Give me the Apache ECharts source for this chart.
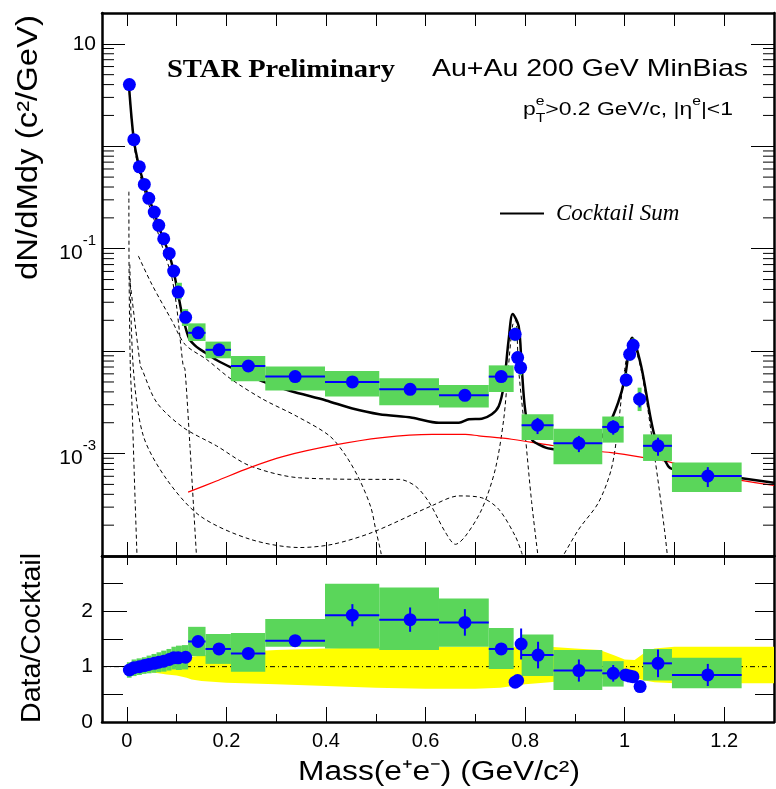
<!DOCTYPE html>
<html>
<head>
<meta charset="utf-8">
<script src="https://cdn.jsdelivr.net/npm/echarts@6.0.0/dist/echarts.min.js"></script>
<style>
html,body{margin:0;padding:0;background:#fff;}
#chart{width:776px;height:789px;}
</style>
</head>
<body>
<div id="chart"></div>
<script>
// ---------------- axes ----------------
const massRange = [-0.05, 1.3];
const massTickValues = [0,0.1,0.2,0.3,0.4,0.5,0.6,0.7,0.8,0.9,1.0,1.1,1.2];
const massLabelValues = [0,0.2,0.4,0.6,0.8,1.0,1.2];
const massMinorValues = [0.1,0.3,0.5,0.7,0.9,1.1];
const yieldRange = [1e-4, 20];
const yieldMinorTicks = [2e-4,3e-4,4e-4,5e-4,6e-4,7e-4,8e-4,9e-4,
  2e-3,3e-3,4e-3,5e-3,6e-3,7e-3,8e-3,9e-3,
  0.02,0.03,0.04,0.05,0.06,0.07,0.08,0.09,
  0.2,0.3,0.4,0.5,0.6,0.7,0.8,0.9,
  2,3,4,5,6,7,8,9];
const yieldLabelExponents = [1,-1,-3];
const ratioRange = [0, 3];
const ratioMajorTicks = [0,1,2];
const ratioMinorTicks = [0.5,1.5,2.5];
const ratioRightTicks = [0.5,1,1.5,2,2.5];
const unityRatio = 1;

// ---------------- top panel: data ----------------
const dataMass  = [0.005,0.014,0.025,0.035,0.044,0.055,0.064,0.074,0.085,0.094,0.103,0.118,
  0.143,0.185,0.244,0.338,0.453,0.569,0.679,0.752,0.780,0.785,0.791,0.825,0.908,0.977,
  1.003,1.010,1.017,1.030,1.067,1.167];
const dataYield = [4.0,1.16,0.63,0.424,0.31,0.228,0.169,0.125,0.09,0.0605,0.0377,0.0214,
  0.0151,0.0103,0.00716,0.00564,0.0050,0.00424,0.0037,0.00564,0.0146,0.00865,0.0069,0.00189,0.00126,0.00182,
  0.00523,0.0093,0.0114,0.0034,0.00119,0.000604];
const dataBinLo = [0.000,0.0095,0.0195,0.030,0.0395,0.0495,0.0595,0.069,0.0795,0.0895,0.0985,0.1105,
  0.123,0.158,0.209,0.278,0.398,0.507,0.627,0.727,0.777,0.782,0.788,0.793,0.857,0.955,
  1.000,1.007,1.014,1.026,1.037,1.095];
const dataBinHi = [0.0095,0.0195,0.030,0.0395,0.0495,0.0595,0.069,0.0795,0.0895,0.0985,0.1105,0.123,
  0.158,0.209,0.278,0.398,0.507,0.627,0.727,0.777,0.783,0.788,0.794,0.857,0.955,0.998,
  1.006,1.013,1.020,1.034,1.095,1.235];
const dataStatRel = [0.02,0.02,0.02,0.02,0.02,0.02,0.02,0.02,0.02,0.03,0.03,0.04,
  0.04,0.04,0.05,0.05,0.06,0.07,0.08,0.06,0.06,0.08,0.1,0.18,0.18,0.16,
  0.08,0.06,0.06,0.17,0.2,0.22];
const dataSysLo = [3.6,1.05,0.57,0.38,0.28,0.205,0.152,0.112,0.080,0.053,0.032,0.0176,
  0.01255,0.00851,0.00507,0.00412,0.0036,0.00296,0.00281,0.00399,0.0125,0.0074,0.0058,0.00136,0.000787,0.00128,
  0.0045,0.0080,0.0097,0.0026,0.000847,0.000422];
const dataSysHi = [4.4,1.28,0.70,0.47,0.34,0.25,0.186,0.138,0.100,0.069,0.0465,0.0257,
  0.01867,0.01239,0.00895,0.00706,0.0064,0.00543,0.00467,0.00726,0.0170,0.0100,0.0082,0.00242,0.00175,0.0023,
  0.0061,0.0108,0.0133,0.0044,0.00154,0.000816];

// ---------------- top panel: cocktail ----------------
const sumMass = [0.004,0.014,0.025,0.035,0.044,0.055,0.064,0.074,0.085,0.094,0.103,0.110,0.117,0.126,0.140,0.157,0.180,0.210,0.245,0.280,0.327,0.400,0.453,0.507,0.573,0.627,0.667,0.687,0.713,0.733,0.747,0.757,0.767,0.775,0.787,0.793,0.800,0.813,0.840,0.860,0.900,0.940,0.967,0.987,1.000,1.015,1.033,1.060,1.087,1.100,1.173,1.300];
const sumYield = [4.0,1.15,0.62,0.42,0.31,0.225,0.165,0.122,0.088,0.060,0.036,0.024,0.0175,0.013,0.011,0.0097,0.0082,0.0069,0.0058,0.0049,0.0041,0.0033,0.00275,0.00242,0.00224,0.0020,0.0020,0.00216,0.00219,0.00242,0.0029,0.0046,0.013,0.023,0.0176,0.0072,0.0027,0.00138,0.00115,0.0011,0.00105,0.0012,0.00186,0.00315,0.0053,0.0135,0.0072,0.00149,0.00076,0.0007,0.00063,0.00052];
const ccMass = [0.123,0.180,0.247,0.313,0.413,0.513,0.613,0.680,0.707,0.773,0.840,0.907,0.973,1.040,1.093,1.173,1.300];
const ccYield = [4.2e-4,5.4e-4,7.3e-4,9.35e-4,1.2e-3,1.43e-3,1.54e-3,1.54e-3,1.49e-3,1.38e-3,1.23e-3,1.1e-3,1.02e-3,9.1e-4,8.2e-4,6.2e-4,4.9e-4];
const lineAMass = [0.004,0.0045,0.007,0.010,0.0166,0.021];
const lineAYield = [0.36,0.05,0.0067,0.0032,3.4e-4,8e-5];
const pi0Mass = [0.004,0.014,0.025,0.035,0.044,0.055,0.064,0.074,0.085,0.090,0.100,0.113,0.1166,0.1266,0.134,0.141];
const pi0Yield = [3.8,1.05,0.56,0.37,0.27,0.19,0.135,0.095,0.065,0.054,0.027,0.0072,0.0067,0.0012,3e-4,8e-5];
const etaMass = [0.023,0.050,0.090,0.117,0.160,0.210,0.273,0.340,0.407,0.440,0.467,0.490,0.500,0.510,0.515];
const etaYield = [0.085,0.045,0.020,0.0116,0.0083,0.0053,0.0034,0.00233,0.00149,0.00095,5.6e-4,3e-4,1.8e-4,1.1e-4,8e-5];
const omegaMass = [0.005,0.027,0.030,0.060,0.113,0.180,0.247,0.347,0.513,0.547,0.580,0.607,0.640,0.660,0.680,0.713,0.740,0.757,0.766,0.775,0.781,0.787,0.800,0.813,0.827];
const omegaYield = [0.054,0.0072,0.0067,0.00315,0.0018,0.00119,7.6e-4,5.8e-4,5.6e-4,5.6e-4,4.8e-4,3.35e-4,1.7e-4,1.3e-4,1.56e-4,2.86e-4,7e-4,2.16e-3,6.6e-3,0.018,0.02,0.0066,0.00156,3.4e-4,9e-5];
const etapMass = [0.006,0.013,0.033,0.080,0.147,0.247,0.347,0.413,0.493,0.613,0.667,0.713,0.747,0.780,0.793,0.800];
const etapYield = [0.07,0.0067,1.49e-3,5.6e-4,2.46e-4,1.46e-4,1.21e-4,1.3e-4,1.7e-4,3.1e-4,3.86e-4,3.7e-4,2.86e-4,1.57e-4,1.08e-4,8e-5];
const phiMass = [0.865,0.907,0.947,0.973,0.987,1.000,1.013,1.033,1.060,1.080,1.088];
const phiYield = [8e-5,1.8e-4,3.3e-4,7e-4,1.86e-3,6.6e-3,0.0128,6.6e-3,9.5e-4,1.8e-4,8e-5];

// ---------------- ratio panel ----------------
const ratioMass = [0.005,0.014,0.025,0.035,0.044,0.055,0.064,0.074,0.085,0.094,0.103,0.118,
  0.143,0.185,0.244,0.338,0.453,0.569,0.679,0.752,0.780,0.785,0.792,0.826,0.908,0.977,
  1.002,1.010,1.0166,1.031,1.067,1.167];
const ratioValue = [0.94,0.98,1.0,1.02,1.04,1.06,1.08,1.10,1.13,1.16,1.16,1.17,
  1.455,1.32,1.24,1.47,1.93,1.85,1.80,1.32,0.72,0.75,1.41,1.21,0.93,0.88,
  0.85,0.83,0.82,0.64,1.06,0.85];
const ratioStat = [0.02,0.02,0.02,0.02,0.02,0.02,0.02,0.02,0.02,0.03,0.03,0.04,
  0.05,0.05,0.05,0.05,0.20,0.22,0.24,0.07,0.05,0.05,0.28,0.24,0.20,0.15,
  0.05,0.05,0.05,0.05,0.25,0.20];
const ratioSysLo = [0.80,0.83,0.85,0.87,0.88,0.89,0.90,0.91,0.93,0.95,0.94,0.95,
  1.19,1.05,0.91,1.36,1.33,1.30,1.36,0.96,0.66,0.69,1.30,0.83,0.58,0.64,
  0.78,0.77,0.75,0.58,0.75,0.61];
const ratioSysHi = [1.08,1.13,1.15,1.17,1.20,1.23,1.26,1.29,1.32,1.36,1.38,1.39,
  1.72,1.59,1.61,1.86,2.50,2.43,2.23,1.70,0.78,0.81,1.52,1.58,1.30,1.10,
  0.92,0.89,0.89,0.70,1.32,1.16];
const bandMass = [0.0,0.02,0.05,0.08,0.10,0.12,0.13,0.15,0.20,0.30,0.40,0.50,0.60,0.70,0.75,0.80,0.85,0.90,0.95,0.98,1.00,1.02,1.04,1.06,1.10,1.20,1.30];
const bandHigh = [1.05,1.05,1.06,1.08,1.10,1.13,1.18,1.20,1.25,1.30,1.33,1.36,1.36,1.36,1.36,1.36,1.36,1.33,1.30,1.20,1.13,1.12,1.25,1.33,1.36,1.36,1.36];
const bandLow  = [0.93,0.92,0.90,0.86,0.84,0.80,0.77,0.74,0.71,0.68,0.65,0.62,0.60,0.60,0.62,0.68,0.72,0.77,0.78,0.80,0.82,0.80,0.75,0.72,0.70,0.70,0.70];

// ---------------- styles ----------------
const BLUE = '#0000ff', GREEN = '#5ad65a', YELLOW = '#ffff00';
const SANS = '"Liberation Sans", Arial, sans-serif';
const SERIF = '"Liberation Serif", "Times New Roman", serif';

const chart = echarts.init(document.getElementById('chart'), null, {renderer:'canvas'});
const mctx = document.createElement('canvas').getContext('2d');
function textWidth(t, font){ mctx.font = font; return mctx.measureText(t).width; }

function frameX(grid, pos, ticks, len, showLine) {
  return {type:'value', gridIndex:grid, position:pos, min:massRange[0], max:massRange[1],
    axisLine:{show:showLine, onZero:false, lineStyle:{color:'#000', width:2.5}},
    axisTick:{show:true, inside:true, length:len, customValues:ticks, lineStyle:{color:'#000', width:1}},
    axisLabel:{show:false}, splitLine:{show:false}};
}
function ratioY(pos, ticks, len, showLine) {
  return {type:'value', gridIndex:1, position:pos, min:ratioRange[0], max:ratioRange[1],
    axisLine:{show:showLine, onZero:false, lineStyle:{color:'#000', width:2.5}},
    axisTick:{show:true, inside:true, length:len, customValues:ticks, lineStyle:{color:'#000', width:1}},
    axisLabel:{show:false}, splitLine:{show:false}};
}
function logY(pos) {
  return {type:'log', logBase:10, gridIndex:0, position:pos, min:yieldRange[0], max:yieldRange[1],
    axisLine:{show:true, onZero:false, lineStyle:{color:'#000', width:2.5}},
    axisTick:{show:true, inside:true, length:23, lineStyle:{color:'#000', width:1}},
    axisLabel:{show:false}, splitLine:{show:false}, minorTick:{show:false}};
}

const xAxes = [
  frameX(0,'bottom',massTickValues,14,true),   // 0
  frameX(0,'top',massTickValues,13,true),      // 1
  Object.assign(frameX(1,'bottom',massLabelValues,15,true), { // 2
    axisLabel:{show:true, customValues:massLabelValues, margin:9, color:'#000', fontSize:20, fontFamily:SANS}}),
  frameX(1,'bottom',massMinorValues,8,false),  // 3
  frameX(1,'top',massTickValues,9,true)        // 4
];
const yLeft = logY('left');
yLeft.axisLabel = {show:true, margin:6, color:'#000', fontSize:21, fontFamily:SANS,
  formatter: v => {
    const e = Math.round(Math.log10(v));
    if (Math.abs(Math.log10(v) - e) > 1e-6 || yieldLabelExponents.indexOf(e) < 0) return '';
    return e === 1 ? '10' : '{b|10}{s|' + e + '}';
  },
  rich:{b:{fontSize:21, fontFamily:SANS, color:'#000', lineHeight:30, verticalAlign:'bottom'},
        s:{fontSize:15, fontFamily:SANS, color:'#000', lineHeight:15, verticalAlign:'top'}}};
const yRatioLeft = ratioY('left', ratioMajorTicks, 25, true);
yRatioLeft.axisLabel = {show:true, customValues:ratioMajorTicks, margin:9, color:'#000', fontSize:21, fontFamily:SANS};
const yAxes = [
  yLeft,                                         // 0
  logY('right'),                                 // 1
  yRatioLeft,                                    // 2
  ratioY('left', ratioMinorTicks, 21, false),    // 3
  ratioY('right', ratioRightTicks, 19, true)     // 4
];

function curve(name, mass, val, color, width, type) {
  return {type:'line', name:name, xAxisIndex:0, yAxisIndex:0, data: mass.map((m,i)=>[m,val[i]]),
    symbol:'none', smooth:0.3, clip:true, z:2, silent:true,
    lineStyle:{color:color, width:width, type:type}};
}
function boxes(xi, yi, lo, hi, ylo, yhi) {
  return {type:'custom', xAxisIndex:xi, yAxisIndex:yi, clip:true, z:3, silent:true,
    data: lo.map((l,i)=>[l, hi[i], ylo[i], yhi[i]]), encode:{x:[0,1], y:[2,3]},
    renderItem:(p, api) => {
      const a = api.coord([api.value(0), api.value(3)]);
      const b = api.coord([api.value(1), api.value(2)]);
      return {type:'rect', shape:{x:a[0], y:a[1], width:b[0]-a[0], height:b[1]-a[1]}, style:{fill:GREEN}};
    }};
}
function errorBars(xi, yi, mass, val, lo, hi, elo, ehi) {
  return {type:'custom', xAxisIndex:xi, yAxisIndex:yi, clip:true, z:4, silent:true,
    data: mass.map((m,i)=>[m, val[i], lo[i], hi[i], elo[i], ehi[i]]), encode:{x:0, y:1},
    renderItem:(p, api) => {
      const m = api.value(0), v = api.value(1);
      const l = api.coord([api.value(2), v]), r = api.coord([api.value(3), v]);
      const b = api.coord([m, api.value(4)]), t = api.coord([m, api.value(5)]);
      const st = {stroke:BLUE, lineWidth:2};
      return {type:'group', children:[
        {type:'line', shape:{x1:l[0], y1:l[1], x2:r[0], y2:r[1]}, style:st},
        {type:'line', shape:{x1:b[0], y1:b[1], x2:t[0], y2:t[1]}, style:st}]};
    }};
}
function points(xi, yi, mass, val) {
  return {type:'scatter', xAxisIndex:xi, yAxisIndex:yi, data: mass.map((m,i)=>[m,val[i]]),
    symbol:'circle', symbolSize:13, itemStyle:{color:BLUE, opacity:1}, z:5, silent:true};
}

const dash = [4,3];
const series = [
  curve('lineA', lineAMass, lineAYield, '#000', 1, dash),
  curve('pi0', pi0Mass, pi0Yield, '#000', 1, dash),
  curve('eta', etaMass, etaYield, '#000', 1, dash),
  curve('omega', omegaMass, omegaYield, '#000', 1, dash),
  curve('etap', etapMass, etapYield, '#000', 1, dash),
  curve('phi', phiMass, phiYield, '#000', 1, dash),
  curve('ccbar', ccMass, ccYield, '#ff0000', 1.2, 'solid'),
  curve('Cocktail Sum', sumMass, sumYield, '#000', 2.5, 'solid'),
  boxes(0, 0, dataBinLo, dataBinHi, dataSysLo, dataSysHi),
  errorBars(0, 0, dataMass, dataYield, dataBinLo, dataBinHi,
    dataYield.map((v,i)=>v*(1-dataStatRel[i])), dataYield.map((v,i)=>v*(1+dataStatRel[i]))),
  points(0, 0, dataMass, dataYield),
  // minor log ticks (left & right), placed through the log scale
  {type:'custom', xAxisIndex:0, yAxisIndex:0, clip:false, z:6, silent:true,
    data: yieldMinorTicks.map(v=>[massRange[0], v]), encode:{x:0, y:1},
    renderItem:(p, api) => {
      const L = api.coord([massRange[0], api.value(1)]);
      const R = api.coord([massRange[1], api.value(1)]);
      const st = {stroke:'#000', lineWidth:1};
      return {type:'group', children:[
        {type:'line', shape:{x1:L[0], y1:L[1], x2:L[0]+12, y2:L[1]}, style:st},
        {type:'line', shape:{x1:R[0]-11, y1:R[1], x2:R[0], y2:R[1]}, style:st}]};
    }},
  // ratio panel
  {type:'custom', xAxisIndex:2, yAxisIndex:2, clip:true, z:1, silent:true,
    data: bandMass.map((m,i)=>[m, bandLow[i], bandHigh[i]]), encode:{x:0, y:[1,2]},
    renderItem:(p, api) => {
      if (p.dataIndex !== 0) return null;
      const pts = [];
      for (let i=0;i<bandMass.length;i++) pts.push(api.coord([bandMass[i], bandHigh[i]]));
      for (let i=bandMass.length-1;i>=0;i--) pts.push(api.coord([bandMass[i], bandLow[i]]));
      return {type:'polygon', shape:{points:pts}, style:{fill:YELLOW}};
    }},
  {type:'line', xAxisIndex:2, yAxisIndex:2, data:[[massRange[0],unityRatio],[massRange[1],unityRatio]],
    symbol:'none', z:2, silent:true, lineStyle:{color:'#000', width:1, type:[5,3,1,3]}},
  boxes(2, 2, dataBinLo, dataBinHi, ratioSysLo, ratioSysHi),
  errorBars(2, 2, ratioMass, ratioValue, dataBinLo, dataBinHi,
    ratioValue.map((v,i)=>v-ratioStat[i]), ratioValue.map((v,i)=>v+ratioStat[i])),
  points(2, 2, ratioMass, ratioValue)
];

// ---------------- texts ----------------
function scaledText(txt, font, x, y, targetW, align, vAlign, rotation) {
  const w = textWidth(txt, font);
  return {type:'text', x:x, y:y, rotation:rotation||0, scaleX: targetW / w, scaleY:1, z:100, silent:true,
    style:{text:txt, font:font, fill:'#000', textAlign:align, textVerticalAlign:vAlign}};
}
const fStar = 'bold 25px ' + SERIF;
const fAu = '24px ' + SANS;
const fPt = '19px ' + SANS, fPtS = '13px ' + SANS;
const wp = textWidth('p', fPt), wT = textWidth('T', fPtS);
const wMid = textWidth('>0.2 GeV/c, |η', fPt), we = textWidth('e', fPtS), wEnd = textWidth('|<1', fPt);
const ptW = wp + wT + wMid + we + wEnd;
const ptScale = 210 / ptW;
const ptX = 523, ptY = 119;
const ptGroup = {type:'group', x:ptX, y:ptY, scaleX:ptScale, z:100, silent:true, children:[
  {type:'text', x:0, y:0, style:{text:'p', font:fPt, fill:'#000', textAlign:'left', textVerticalAlign:'bottom'}},
  {type:'text', x:wp, y:-11, style:{text:'e', font:fPtS, fill:'#000', textAlign:'left', textVerticalAlign:'bottom'}},
  {type:'text', x:wp, y:6, style:{text:'T', font:fPtS, fill:'#000', textAlign:'left', textVerticalAlign:'bottom'}},
  {type:'text', x:wp+wT, y:0, style:{text:'>0.2 GeV/c, |η', font:fPt, fill:'#000', textAlign:'left', textVerticalAlign:'bottom'}},
  {type:'text', x:wp+wT+wMid, y:-11, style:{text:'e', font:fPtS, fill:'#000', textAlign:'left', textVerticalAlign:'bottom'}},
  {type:'text', x:wp+wT+wMid+we, y:0, style:{text:'|<1', font:fPt, fill:'#000', textAlign:'left', textVerticalAlign:'bottom'}}
]};

const graphics = [
  scaledText('STAR Preliminary', fStar, 167, 71, 228, 'left', 'middle'),
  scaledText('Au+Au 200 GeV MinBias', fAu, 432, 69, 316, 'left', 'middle'),
  ptGroup,
  scaledText('dN/dMdy (c²/GeV)', '29px ' + SANS, 29, 15, 265, 'right', 'middle', Math.PI/2),
  scaledText('Data/Cocktail', '28px ' + SANS, 32, 638, 170, 'center', 'middle', Math.PI/2),
  scaledText('Mass(e⁺e⁻) (GeV/c²)', '27px ' + SANS, 580, 773, 282, 'right', 'middle')
];

chart.setOption({
  animation:false,
  backgroundColor:'#fff',
  grid:[
    {left:102, top:13, width:672, height:543, outerBoundsMode:'none', containLabel:false},
    {left:102, top:556, width:672, height:166, outerBoundsMode:'none', containLabel:false}
  ],
  xAxis: xAxes,
  yAxis: yAxes,
  legend:{show:true, data:['Cocktail Sum'], left:495, top:197, icon:'rect', itemWidth:44, itemHeight:2,
    itemStyle:{color:'#000'}, selectedMode:false,
    textStyle:{fontFamily:SERIF, fontStyle:'italic', fontSize:23, color:'#000', padding:[0,0,0,7]}},
  series: series,
  graphic: graphics
});
</script>
</body>
</html>
